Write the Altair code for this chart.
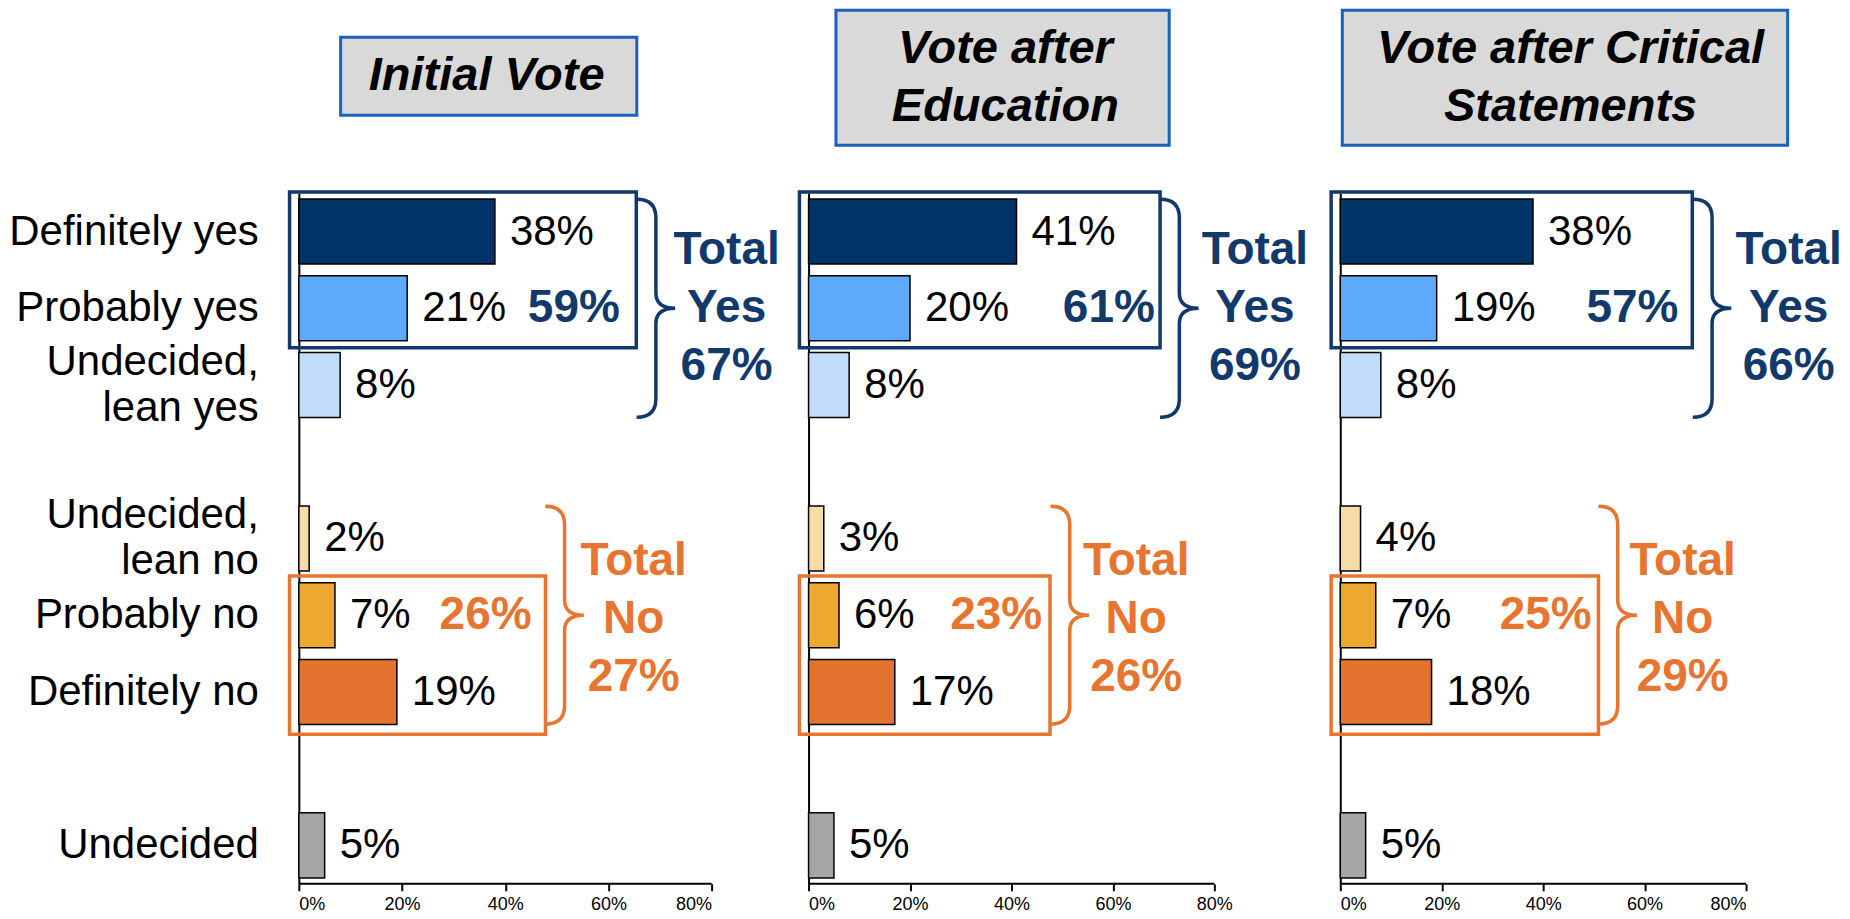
import altair as alt
import pandas as pd

# ---------------- data ----------------
panel_titles = ["Initial Vote", "Vote after\nEducation", "Vote after Critical\nStatements"]
categories = ["Definitely yes", "Probably yes", "Undecided,\nlean yes",
              "Undecided,\nlean no", "Probably no", "Definitely no", "Undecided"]
# row order on the y axis (None = empty spacer row)
row_order = ["Definitely yes", "Probably yes", "Undecided,\nlean yes", None,
             "Undecided,\nlean no", "Probably no", "Definitely no", None, "Undecided"]
bar_colors = ["#003366", "#5DA9FA", "#C0DCFA", "#F8DCA8", "#EDA92F", "#E2722D", "#A6A6A6"]

initial_vote = [38, 21, 8, 2, 7, 19, 5]
after_education = [41, 20, 8, 3, 6, 17, 5]
after_critical = [38, 19, 8, 4, 7, 18, 5]
series = [initial_vote, after_education, after_critical]

subtotal_yes = [59, 61, 57]
total_yes = [67, 69, 66]
subtotal_no = [26, 23, 25]
total_no = [27, 26, 29]
x_ticks = [0, 20, 40, 60, 80]
x_max = 80

# ---------------- styles / layout ----------------
FONT = "Liberation Sans"
NAVY = "#11396B"
ORANGE = "#E8752F"
TITLE_FILL = "#D9D9D9"
TITLE_STROKE = "#1A62C0"
BAR_HALF = 0.424
BRACE = "M -0.177 -1 Q 0 -1 0 -0.83 L 0 -0.14 Q 0 0 0.177 0 Q 0 0 0 0.14 L 0 0.83 Q 0 1 -0.177 1"
BRACE_SIZE = 218 * 218
PLOT_H = 691
SPACING = 97
TOT_LH = 58

# axis_w = pixel width of the 0-80% axis; extra = blank space right of the axis
layout = [
    dict(axis_w=413, extra=0, tb=(8.1, 65.5), ty=(-156, -78), tcx=36.4, tcy=-117,
         yb=65.4, ysub=53.3, ybr=69.2, ytot=82.9, nb=47.8, nsub=36.2, nbr=51.5, ntot=64.9),
    dict(axis_w=406, extra=29, tb=(5.4, 71.1), ty=(-183, -48), tcx=38.8, tcy=-144,
         yb=69.3, ysub=59.2, ybr=73.1, ytot=88.0, nb=47.6, nsub=37.0, nbr=51.5, ntot=64.6),
    dict(axis_w=406, extra=0, tb=(0.4, 88.2), ty=(-183, -48), tcx=45.4, tcy=-144,
         yb=69.4, ysub=57.6, ybr=73.3, ytot=88.4, nb=50.9, nsub=40.5, nbr=54.7, ntot=67.5),
]

yscale = alt.Scale(domain=[-0.5, 8.5], nice=False, zero=False, reverse=True)

xaxis = alt.Axis(values=x_ticks, labelExpr="datum.value + '%'", labelFont=FONT, labelFontSize=18,
                 labelColor="black", labelPadding=5, tickSize=7, tickWidth=2, tickColor="black",
                 domain=False, grid=False, title=None)
yaxis = alt.Axis(labels=False, ticks=False, domain=True, domainColor="black", domainWidth=2,
                 grid=False, title=None)


def make_panel(i):
    lay = layout[i]
    vals = series[i]
    width = lay["axis_w"] + lay["extra"]
    xscale = alt.Scale(domain=[0, x_max * width / lay["axis_w"]], nice=False, zero=False)
    df = pd.DataFrame({
        "cat": categories,
        "value": vals,
        "zero": [0] * len(vals),
        "color": bar_colors,
        "label": [f"{v}%" for v in vals],
    })
    df["slot"] = [row_order.index(c) for c in categories]
    df["y0"] = df["slot"] - BAR_HALF
    df["y1"] = df["slot"] + BAR_HALF
    df["lines"] = [c.count("\n") + 1 for c in categories]

    ann = pd.DataFrame({
        "title": [panel_titles[i]],
        "ysub": [f"{subtotal_yes[i]}%"],
        "ytot": [f"Total\nYes\n{total_yes[i]}%"],
        "nsub": [f"{subtotal_no[i]}%"],
        "ntot": [f"Total\nNo\n{total_no[i]}%"],
    })

    base = alt.Chart(df)
    bars = base.mark_rect(stroke="black", strokeWidth=1.5).encode(
        x=alt.X("zero:Q", scale=xscale, axis=xaxis),
        x2="value:Q",
        y=alt.Y("y0:Q", scale=yscale, axis=yaxis),
        y2="y1:Q",
        color=alt.Color("color:N", scale=None),
    )
    vlabels = base.mark_text(align="left", baseline="middle", dx=15, font=FONT,
                             fontSize=42, color="black").encode(
        x=alt.X("value:Q"), y=alt.Y("slot:Q"), text="label:N")

    a = alt.Chart(ann)
    xline = a.mark_rule(color="black", strokeWidth=2).encode(
        x=alt.datum(0), x2=alt.datum(x_max), y=alt.value(PLOT_H))
    tbox = a.mark_rect(fill=TITLE_FILL, stroke=TITLE_STROKE, strokeWidth=3).encode(
        x=alt.datum(lay["tb"][0]), x2=alt.datum(lay["tb"][1]),
        y=alt.value(lay["ty"][0]), y2=alt.value(lay["ty"][1]))
    ttext = a.mark_text(font=FONT, fontSize=47, fontWeight="bold", fontStyle="italic",
                        lineBreak="\n", lineHeight=58, align="center", baseline="middle",
                        color="black").encode(
        x=alt.datum(lay["tcx"]), y=alt.value(lay["tcy"]), text="title:N")

    ybox = a.mark_rect(fillOpacity=0, stroke=NAVY, strokeWidth=3.5).encode(
        x=alt.datum(-1.8), x2=alt.datum(lay["yb"]), y=alt.datum(-0.515), y2=alt.datum(1.515))
    nbox = a.mark_rect(fillOpacity=0, stroke=ORANGE, strokeWidth=3.5).encode(
        x=alt.datum(-1.8), x2=alt.datum(lay["nb"]), y=alt.datum(4.49), y2=alt.datum(6.55))

    ysub = a.mark_text(font=FONT, fontSize=46, fontWeight="bold", color=NAVY,
                       align="center", baseline="middle").encode(
        x=alt.datum(lay["ysub"]), y=alt.datum(1), text="ysub:N")
    nsub = a.mark_text(font=FONT, fontSize=46, fontWeight="bold", color=ORANGE,
                       align="center", baseline="middle").encode(
        x=alt.datum(lay["nsub"]), y=alt.datum(5), text="nsub:N")

    ybrace = a.mark_point(shape=BRACE, size=BRACE_SIZE, filled=False, stroke=NAVY,
                          strokeWidth=3.5, opacity=1).encode(
        x=alt.datum(lay["ybr"]), y=alt.datum(1.0))
    nbrace = a.mark_point(shape=BRACE, size=BRACE_SIZE, filled=False, stroke=ORANGE,
                          strokeWidth=3.5, opacity=1).encode(
        x=alt.datum(lay["nbr"]), y=alt.datum(5.0))

    ytot = a.mark_text(font=FONT, fontSize=46, fontWeight="bold", color=NAVY, dy=-TOT_LH,
                       lineBreak="\n", lineHeight=TOT_LH, align="center", baseline="middle").encode(
        x=alt.datum(lay["ytot"]), y=alt.datum(1.0), text="ytot:N")
    ntot = a.mark_text(font=FONT, fontSize=46, fontWeight="bold", color=ORANGE, dy=-TOT_LH,
                       lineBreak="\n", lineHeight=TOT_LH, align="center", baseline="middle").encode(
        x=alt.datum(lay["ntot"]), y=alt.datum(5.05), text="ntot:N")

    layers = [tbox, ttext, ybox, nbox, bars, xline, vlabels, ysub, nsub, ybrace, nbrace, ytot, ntot]
    if i == 0:
        ylab1 = base.transform_filter("datum.lines == 1").mark_text(
            align="right", baseline="middle", font=FONT, fontSize=42, color="black").encode(
            x=alt.value(-40), y=alt.Y("slot:Q"), text="cat:N")
        ylab2 = base.transform_filter("datum.lines == 2").mark_text(
            align="right", baseline="middle", font=FONT, fontSize=42, dy=-23,
            lineBreak="\n", lineHeight=46, color="black").encode(
            x=alt.value(-40), y=alt.Y("slot:Q"), text="cat:N")
        layers += [ylab1, ylab2]
    return alt.layer(*layers).properties(width=width, height=PLOT_H)


p1, p2, p3 = (make_panel(i) for i in range(3))

chart = alt.hconcat(p1, p2, p3, spacing=SPACING, bounds="flush").configure_view(
    stroke=None).properties(padding={"left": 1, "top": 0, "right": 0, "bottom": 0})

chart.save("out.html", embed_options={"renderer": "svg", "actions": False})
